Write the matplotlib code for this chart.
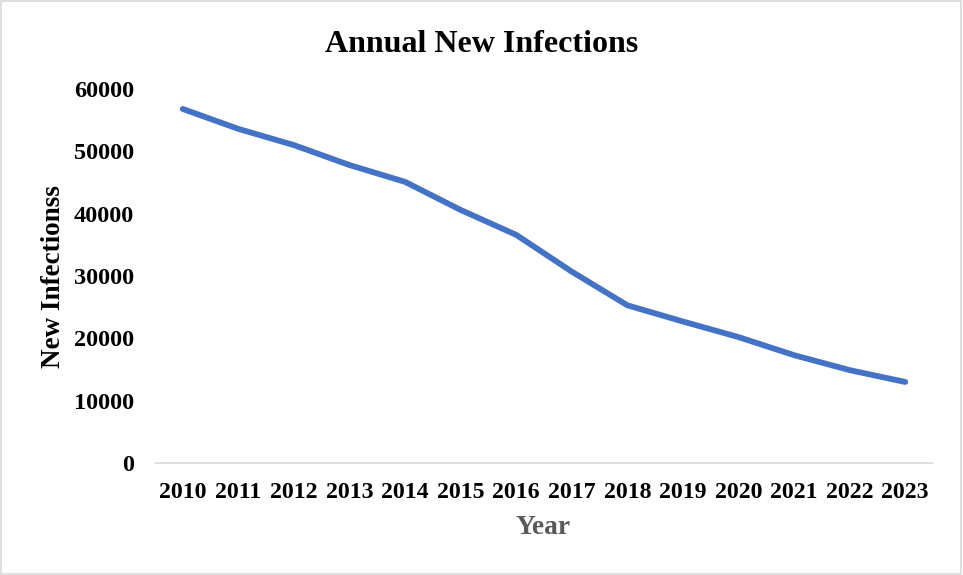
import matplotlib
matplotlib.use("Agg")
import matplotlib.pyplot as plt
from matplotlib.patches import Rectangle

years = [str(y) for y in range(2010, 2024)]
new_infections = [56800, 53600, 51000, 47800, 45100, 40600, 36600,
                  30700, 25300, 22700, 20200, 17300, 14900, 13000]
y_ticks = [0, 10000, 20000, 30000, 40000, 50000, 60000]

plt.rcParams['font.family'] = ['Liberation Serif', 'DejaVu Serif']
plt.rcParams['font.weight'] = 'bold'

fig = plt.figure(figsize=(9.63, 5.75), dpi=100)
ax = fig.add_axes([155 / 963, 1 - 463 / 575, 778 / 963, (463 - 89) / 575])

x = range(len(years))
ax.plot(x, new_infections, color='#4472C4', linewidth=4.2, solid_capstyle='round',
        solid_joinstyle='round')

ax.set_xlim(-0.5, len(years) - 0.5)
ax.set_ylim(0, 60000)
ax.set_xticks(list(x))
ax.set_xticklabels(years, fontsize=17.2, fontweight='bold')
ax.set_yticks(y_ticks)
ax.set_yticklabels([str(v) for v in y_ticks], fontsize=17.5, fontweight='bold')
ax.tick_params(axis='x', length=0, pad=14)
ax.tick_params(axis='y', length=0, pad=15)

for side in ['top', 'right', 'left']:
    ax.spines[side].set_visible(False)
ax.spines['bottom'].set_color('#D9D9D9')
ax.spines['bottom'].set_linewidth(1.2)

fig.text(481.5 / 963, 1 - 44 / 575, 'Annual New Infections', ha='center', va='center',
         fontsize=23, fontweight='bold')
fig.text(53 / 963, 1 - 277 / 575, 'New Infectionss', ha='center', va='center',
         rotation=90, fontsize=19.5, fontweight='bold')
fig.text(543 / 963, 1 - 528 / 575, 'Year', ha='center', va='center',
         fontsize=19.8, fontweight='bold', color='#595959')

# light frame around the whole chart area
fig.patches.append(Rectangle((0.001, 0.001), 0.997, 0.997, transform=fig.transFigure,
                             fill=False, edgecolor='#D9D9D9', linewidth=1.2))

fig.savefig('out.png', dpi=100)
